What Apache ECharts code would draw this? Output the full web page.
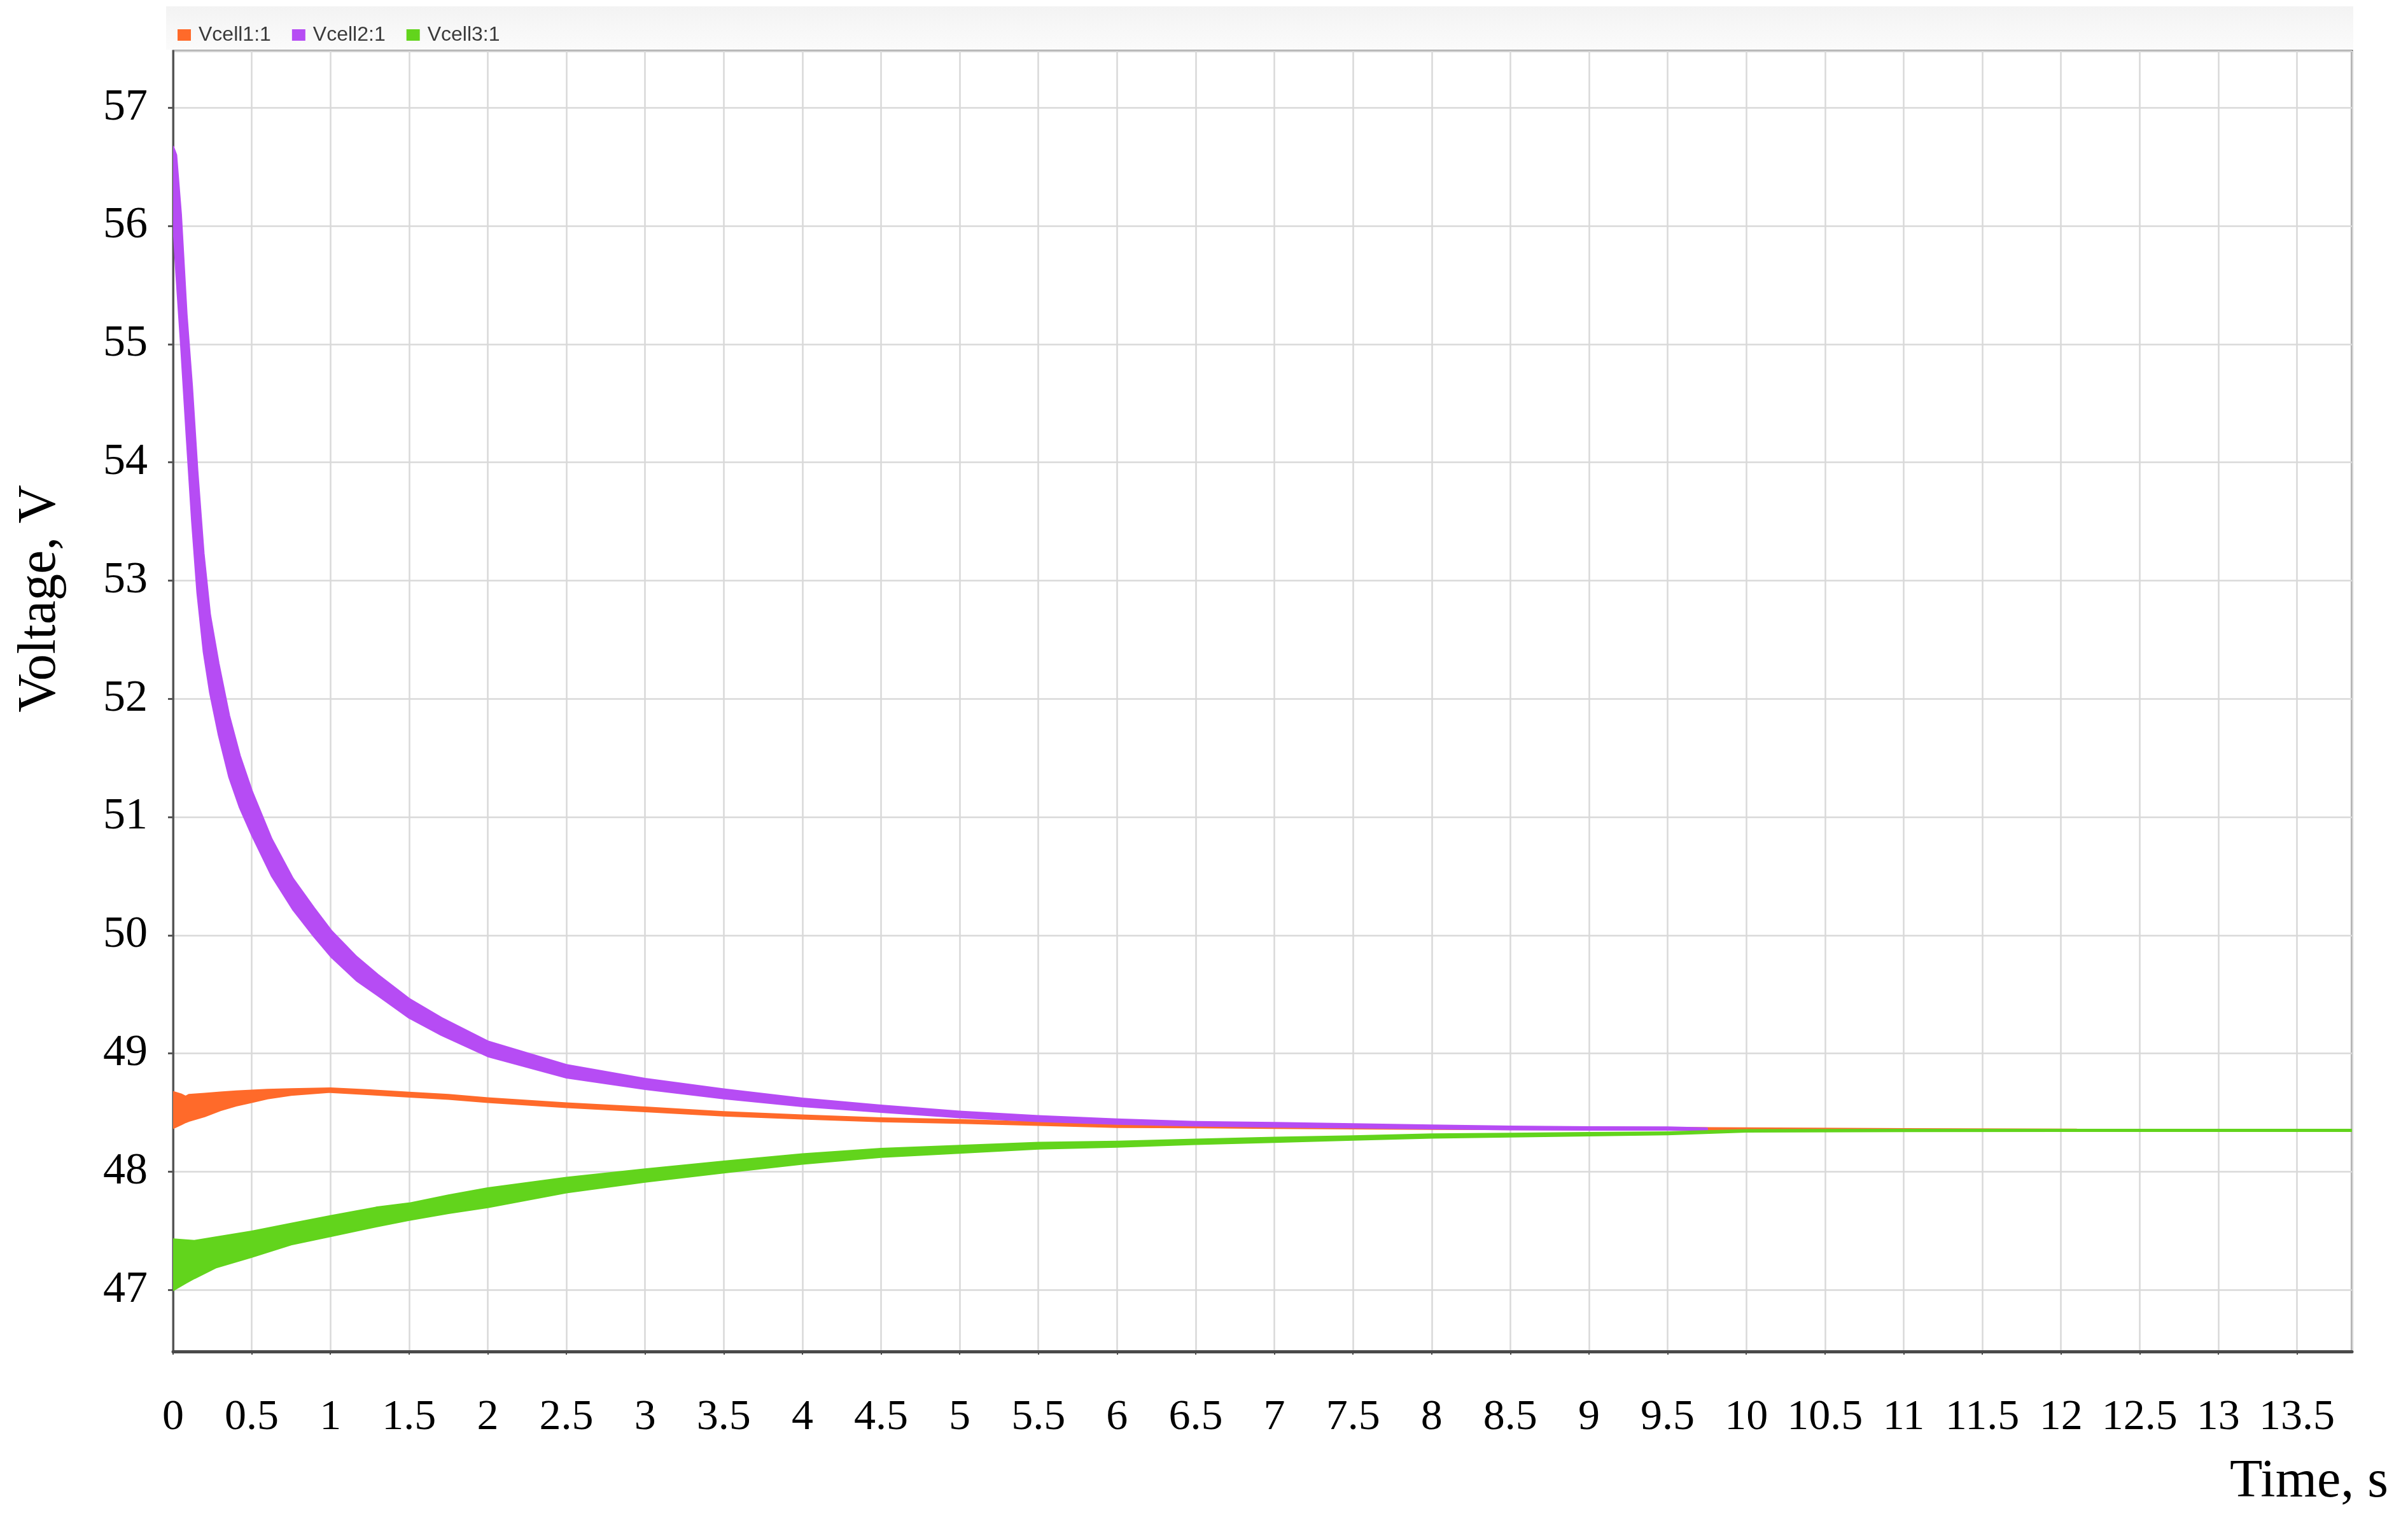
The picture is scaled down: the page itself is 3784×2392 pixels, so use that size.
<!DOCTYPE html>
<html>
<head>
<meta charset="utf-8">
<title>Vcell voltages</title>
<script src="https://cdn.jsdelivr.net/npm/echarts@6/dist/echarts.min.js"></script>
<style>
    html, body { margin: 0; padding: 0; background: #fff; }
    #chart { width: 3784px; height: 2392px; }
</style>
</head>
<body>
<div id="chart"></div>
<script>
// Series names (legend)
var seriesNames = ['Vcell1:1', 'Vcell2:1', 'Vcell3:1'];

// Vcell1 ripple band: time (s), lower and upper envelope (V)
var vcell1Time = [0, 0.05, 0.08, 0.1, 0.2, 0.3, 0.4, 0.5, 0.6, 0.75, 1.0, 1.25, 1.5, 1.75, 2.0, 2.5, 3.0, 3.5, 4.0, 4.5, 5.0, 5.5, 6.0, 6.5, 7.0, 8.0, 9.0, 10.0, 11.0, 12.1];
var vcell1Low  = [48.37, 48.40, 48.42, 48.43, 48.47, 48.52, 48.56, 48.59, 48.62, 48.65, 48.675, 48.655, 48.635, 48.616, 48.589, 48.547, 48.512, 48.475, 48.449, 48.427, 48.413, 48.396, 48.378, 48.375, 48.37, 48.362, 48.358, 48.353, 48.349, 48.347];
var vcell1High = [48.675, 48.655, 48.635, 48.65, 48.66, 48.67, 48.68, 48.687, 48.693, 48.698, 48.705, 48.689, 48.669, 48.65, 48.622, 48.579, 48.544, 48.505, 48.477, 48.453, 48.437, 48.418, 48.398, 48.395, 48.388, 48.378, 48.374, 48.367, 48.361, 48.357];

// Vcell2 ripple band
var vcell2Time = [0, 0.02, 0.05, 0.086, 0.12, 0.154, 0.194, 0.235, 0.289, 0.356, 0.424, 0.502, 0.626, 0.761, 0.896, 1.008, 1.166, 1.301, 1.5, 1.706, 2.0, 2.5, 3.0, 3.5, 4.0, 4.5, 5.0, 5.5, 6.0, 6.5, 7.0, 7.5, 8.0, 8.5, 9.0, 9.5, 9.75];
var vcell2Low  = [56.05, 55.6, 55.0, 54.22, 53.51, 52.9, 52.4, 52.05, 51.70, 51.34, 51.08, 50.845, 50.505, 50.22, 49.99, 49.814, 49.618, 49.492, 49.303, 49.157, 48.977, 48.797, 48.70, 48.621, 48.555, 48.506, 48.461, 48.4285, 48.405, 48.39, 48.381, 48.374, 48.366, 48.358, 48.355, 48.355, 48.352];
var vcell2High = [56.67, 56.6, 56.1, 55.25, 54.65, 53.94, 53.23, 52.71, 52.30, 51.86, 51.52, 51.215, 50.815, 50.48, 50.23, 50.034, 49.818, 49.666, 49.463, 49.301, 49.103, 48.903, 48.786, 48.697, 48.619, 48.56, 48.509, 48.4715, 48.443, 48.422, 48.413, 48.402, 48.392, 48.382, 48.377, 48.375, 48.368];

// Vcell3 ripple band
var vcell3Time = [0, 0.08, 0.135, 0.27, 0.5, 0.75, 1.0, 1.29, 1.5, 1.75, 2.0, 2.5, 3.0, 3.5, 4.0, 4.5, 5.0, 5.5, 6.0, 6.5, 7.0, 7.5, 8.0, 8.5, 9.0, 9.5, 10.0, 11.0, 12.0, 13.85];
var vcell3Low  = [46.998, 47.06, 47.10, 47.19, 47.28, 47.385, 47.455, 47.537, 47.592, 47.65, 47.70, 47.825, 47.915, 47.994, 48.068, 48.126, 48.16, 48.195, 48.211, 48.234, 48.252, 48.271, 48.288, 48.298, 48.307, 48.316, 48.339, 48.344, 48.345, 48.345];
var vcell3High = [47.429, 47.42, 47.415, 47.445, 47.495, 47.56, 47.625, 47.697, 47.732, 47.80, 47.86, 47.949, 48.021, 48.087, 48.148, 48.194, 48.22, 48.245, 48.255, 48.272, 48.288, 48.301, 48.316, 48.322, 48.329, 48.334, 48.353, 48.356, 48.355, 48.355];

var seriesColors = ['#ff6a2a', '#b64cf4', '#62d41c'];

function zipBand(time, low, high) {
    var out = [];
    for (var i = 0; i < time.length; i++) {
        out.push([time[i], low[i], high[i]]);
    }
    return out;
}

// whole band drawn once as a polygon, through the grid's own scales
function drawBand(params, api) {
    if (params.dataIndex !== 0) {
        return null;
    }
    var n = params.dataInsideLength;
    var upper = [];
    var lower = [];
    for (var i = 0; i < n; i++) {
        var t = api.value(0, i);
        upper.push(api.coord([t, api.value(2, i)]));
        lower.unshift(api.coord([t, api.value(1, i)]));
    }
    var color = api.visual('color');
    return {
        type: 'polygon',
        shape: { points: upper.concat(lower) },
        style: { fill: color, stroke: color, lineWidth: 3, lineJoin: 'round' },
        silent: true
    };
}

var bands = [
    zipBand(vcell1Time, vcell1Low, vcell1High),
    zipBand(vcell2Time, vcell2Low, vcell2High),
    zipBand(vcell3Time, vcell3Low, vcell3High)
];

var chart = echarts.init(document.getElementById('chart'));

var serifFont = '"Liberation Serif", "Times New Roman", serif';

var options = {
    animation: false,
    color: seriesColors,

    graphic: [{
        type: 'rect',
        left: 261,
        top: 10,
        z: 0,
        shape: { width: 3437, height: 68 },
        style: {
            fill: new echarts.graphic.LinearGradient(0, 0, 0, 1, [
                { offset: 0, color: '#f3f3f3' },
                { offset: 1, color: '#fbfbfb' }
            ])
        },
        silent: true
    }],

    legend: {
        left: 279,
        top: 39,
        padding: 0,
        icon: 'rect',
        itemWidth: 21,
        itemHeight: 18,
        itemGap: 33,
        data: seriesNames,
        textStyle: {
            fontFamily: '"Liberation Sans", Arial, sans-serif',
            fontSize: 32,
            color: '#3a3a3a',
            padding: [0, 0, 0, 7]
        }
    },

    grid: {
        left: 272,
        right: 88,
        top: 80,
        bottom: 268,
        show: true,
        backgroundColor: '#fff',
        borderColor: '#555',
        borderWidth: 3
    },

    xAxis: {
        type: 'value',
        min: 0,
        max: 13.85,
        interval: 0.5,
        name: 'Time, s',
        nameLocation: 'end',
        nameGap: 57,
        nameTextStyle: {
            fontFamily: serifFont,
            fontSize: 84,
            color: '#000',
            align: 'right',
            verticalAlign: 'top',
            padding: [164, 0, 0, 0]
        },
        axisLine: { show: true, lineStyle: { color: '#4a4a4a', width: 5 } },
        axisTick: { show: true, length: 5, lineStyle: { color: '#4a4a4a', width: 2 } },
        splitLine: { show: true, lineStyle: { color: '#d9d9d9', width: 2.5 } },
        axisLabel: {
            fontFamily: serifFont,
            fontSize: 68,
            color: '#000',
            margin: 70,
            showMaxLabel: false
        }
    },

    yAxis: {
        type: 'value',
        min: 46.48,
        max: 57.48,
        minInterval: 1,
        maxInterval: 1,
        splitNumber: 11,
        name: 'Voltage, V',
        nameLocation: 'middle',
        nameGap: 166,
        nameTextStyle: {
            fontFamily: serifFont,
            fontSize: 84,
            color: '#000',
            padding: [0, 0, 0, 322]
        },
        axisLine: { show: true, lineStyle: { color: '#555', width: 3 } },
        axisTick: { show: true, length: 8, lineStyle: { color: '#555', width: 3 } },
        splitLine: { show: true, lineStyle: { color: '#d9d9d9', width: 2.5 } },
        axisLabel: {
            fontFamily: serifFont,
            fontSize: 70,
            color: '#000',
            margin: 40,
            showMinLabel: false,
            showMaxLabel: false
        }
    },

    series: seriesNames.map(function (name, k) {
        return {
            name: name,
            type: 'custom',
            renderItem: drawBand,
            clip: true,
            itemStyle: { color: seriesColors[k] },
            encode: { x: 0, y: [1, 2] },
            data: bands[k]
        };
    })
};

chart.setOption(options);
</script>
</body>
</html>
